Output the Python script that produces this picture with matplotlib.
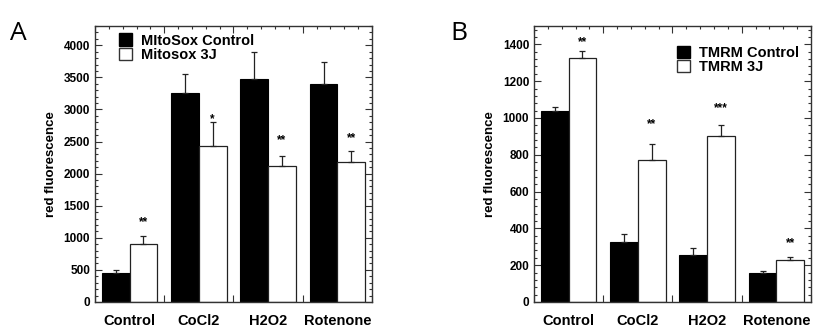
import matplotlib
matplotlib.use("Agg")
import matplotlib.pyplot as plt
import numpy as np
from matplotlib.ticker import MultipleLocator, NullFormatter
from matplotlib.patches import Patch

plt.rcParams["font.family"] = ["Liberation Sans", "DejaVu Sans"]
plt.rcParams["font.weight"] = "bold"

categories = ["Control", "CoCl2", "H2O2", "Rotenone"]

# Panel A - MitoSox
mitosox_ctrl = [452, 3257, 3470, 3397]
mitosox_ctrl_err = [40, 300, 430, 343]
mitosox_3j = [909, 2436, 2114, 2182]
mitosox_3j_err = [120, 370, 167, 171]
mitosox_sig = ["**", "*", "**", "**"]
mitosox_sig_y = [1240, 2850, 2520, 2550]

# Panel B - TMRM
tmrm_ctrl = [1037, 326, 256, 158]
tmrm_ctrl_err = [24, 42, 40, 11]
tmrm_3j = [1324, 774, 900, 229]
tmrm_3j_err = [42, 87, 63, 16]
tmrm_sig = ["**", "**", "***", "**"]
tmrm_sig_y = [1410, 965, 1052, 322]

fig = plt.figure(figsize=(8.28, 3.36), dpi=100)
ax_a = fig.add_axes([95 / 828, 34 / 336, 277 / 828, 276 / 336])
ax_b = fig.add_axes([534 / 828, 34 / 336, 277 / 828, 276 / 336])


def draw_panel(ax, ctrl, ctrl_err, treat, treat_err, sig, sig_y, ymax, major, minor):
    x = np.arange(len(categories))
    ax.bar(x + 0.3, ctrl, width=0.4, color="black", edgecolor="black", linewidth=0.8,
           yerr=[np.zeros(len(ctrl)), ctrl_err], capsize=2.5,
           error_kw=dict(elinewidth=0.9, capthick=0.9, ecolor="#222222"), zorder=2)
    ax.bar(x + 0.7, treat, width=0.4, color="white", edgecolor="#222222", linewidth=0.9,
           yerr=[np.zeros(len(treat)), treat_err], capsize=2.5,
           error_kw=dict(elinewidth=0.9, capthick=0.9, ecolor="#222222"), zorder=2)
    for xi, s, yi in zip(x, sig, sig_y):
        ax.text(xi + 0.7, yi, s, ha="center", va="center", fontsize=8.5)
    ax.set_xlim(0, len(categories))
    ax.set_ylim(0, ymax)
    ax.yaxis.set_major_locator(MultipleLocator(major))
    ax.yaxis.set_minor_locator(MultipleLocator(minor))
    ax.xaxis.set_major_locator(MultipleLocator(1))
    ax.xaxis.set_minor_locator(MultipleLocator(0.2))
    ax.xaxis.set_major_formatter(NullFormatter())
    ax.tick_params(which="both", direction="in", top=True, right=True,
                   color="#333333", width=0.8, labelsize=8.5, zorder=3)
    ax.tick_params(which="major", length=5)
    ax.tick_params(which="minor", length=2.5)
    for lab in ax.get_yticklabels():
        lab.set_fontweight("bold")
    for xi, c in zip(x, categories):
        ax.text(xi + 0.5, -0.045, c, transform=ax.get_xaxis_transform(),
                ha="center", va="top", fontsize=10.5)
    for sp in ax.spines.values():
        sp.set_color("#333333")
        sp.set_linewidth(1.0)
    ax.set_ylabel("red fluorescence", fontsize=9.5, fontweight="bold", labelpad=5)
    handles = [Patch(facecolor="black", edgecolor="black"),
               Patch(facecolor="white", edgecolor="#333333")]
    return handles


h = draw_panel(ax_a, mitosox_ctrl, mitosox_ctrl_err, mitosox_3j, mitosox_3j_err,
               mitosox_sig, mitosox_sig_y, 4300, 500, 100)
ax_a.legend(h, ["MItoSox Control", "Mitosox 3J"], loc="upper left",
            bbox_to_anchor=(0.05, 1.01), frameon=False, fontsize=10.5,
            handlelength=0.9, handleheight=0.9, handletextpad=0.6,
            labelspacing=0.0, borderaxespad=0.3)

h = draw_panel(ax_b, tmrm_ctrl, tmrm_ctrl_err, tmrm_3j, tmrm_3j_err,
               tmrm_sig, tmrm_sig_y, 1500, 200, 40)
ax_b.legend(h, ["TMRM Control", "TMRM 3J"], loc="upper left",
            bbox_to_anchor=(0.48, 0.965), frameon=False, fontsize=10.5,
            handlelength=0.9, handleheight=0.9, handletextpad=0.6,
            labelspacing=0.0, borderaxespad=0.3)

fig.text(10 / 828, 1 - 33 / 336, "A", fontsize=19, fontweight="normal",
         family=["Open Sans", "DejaVu Sans"], va="center")
fig.text(450 / 828, 1 - 33 / 336, "B", fontsize=19, fontweight="normal",
         family=["Open Sans", "DejaVu Sans"], va="center")

fig.savefig("out.png", dpi=100)
